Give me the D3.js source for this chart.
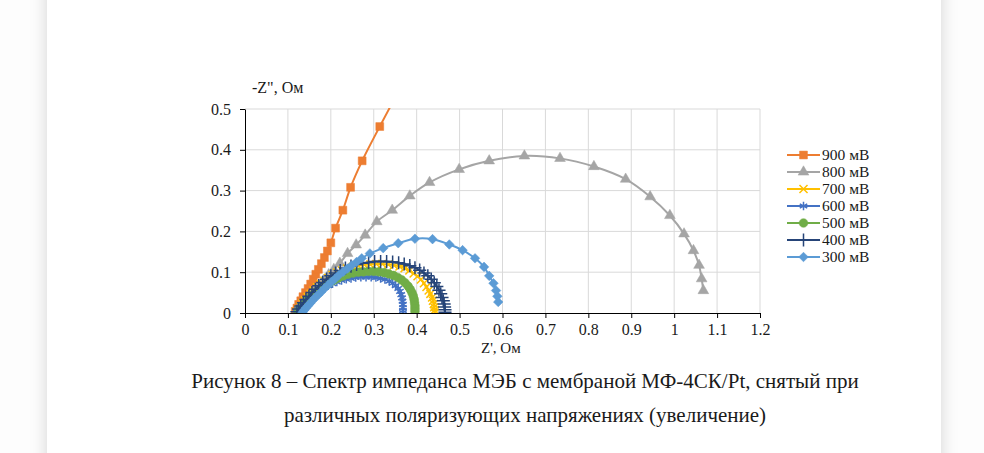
<!DOCTYPE html>
<html>
<head>
<meta charset="utf-8">
<script src="https://cdn.jsdelivr.net/npm/d3@7"></script>
<style>
  html, body { margin: 0; padding: 0; background: #fdfdfd; overflow: hidden; }
  .page { position: absolute; left: 47px; top: -20px; width: 894px; height: 500px;
          background: #fff; box-shadow: 0 0 16px rgba(0,0,0,0.17); }
  svg { position: absolute; left: 0; top: 0; }
  text { font-family: "Liberation Serif", "Times New Roman", serif; fill: #1a1a1a; }
  .grid line { stroke: #d9d9d9; stroke-width: 1; }
  .axis path, .axis line { stroke: #000; stroke-width: 1; }
  .axis text { font-size: 16px; }
</style>
</head>
<body>
<div class="page"></div>
<svg id="chart" width="984" height="453"></svg>
<script>
// series labels (legend order = draw order)
const seriesNames = ['900 мВ', '800 мВ', '700 мВ', '600 мВ', '500 мВ', '400 мВ', '300 мВ'];

// [Z', -Z''] in Ohm
const z900 = [[0.117,0.004],[0.121,0.012],[0.125,0.021],[0.130,0.030],[0.135,0.040],[0.141,0.050],[0.147,0.060],
  [0.153,0.071],[0.159,0.083],[0.165,0.095],[0.171,0.107],[0.178,0.121],[0.185,0.136],[0.192,0.152],[0.200,0.172],
  [0.211,0.208],[0.228,0.252],[0.246,0.308],[0.273,0.373],[0.314,0.457],[0.362,0.552]];

const z800 = [[0.122,0.004],[0.128,0.012],[0.135,0.021],[0.143,0.031],[0.152,0.042],[0.162,0.054],[0.172,0.067],
  [0.183,0.080],[0.195,0.094],[0.207,0.107],[0.221,0.122],[0.239,0.146],[0.259,0.167],[0.280,0.191],[0.307,0.224],
  [0.343,0.252],[0.384,0.287],[0.430,0.320],[0.499,0.352],[0.569,0.373],[0.651,0.385],[0.734,0.379],[0.813,0.359],
  [0.887,0.328],[0.944,0.285],[0.990,0.239],[1.023,0.194],[1.045,0.153],[1.058,0.117],[1.064,0.084],[1.068,0.055]];

const z700 = [[0.120,0.003],[0.124,0.009],[0.129,0.016],[0.134,0.023],[0.140,0.031],[0.146,0.039],[0.153,0.047],
  [0.160,0.055],[0.168,0.063],[0.176,0.071],[0.185,0.079],[0.194,0.086],[0.204,0.093],[0.215,0.099],[0.226,0.104],
  [0.238,0.109],[0.251,0.113],[0.264,0.116],[0.278,0.118],[0.292,0.119],[0.306,0.120],[0.320,0.120],[0.334,0.119],
  [0.347,0.117],[0.360,0.114],[0.372,0.110],[0.383,0.104],[0.393,0.097],[0.402,0.090],[0.410,0.082],[0.417,0.073],
  [0.423,0.064],[0.428,0.055],[0.432,0.047],[0.436,0.038],[0.438,0.030],[0.440,0.022],[0.441,0.014],[0.442,0.007],
  [0.442,0.001]];

const z600 = [[0.120,0.003],[0.124,0.009],[0.129,0.015],[0.134,0.021],[0.140,0.027],[0.146,0.033],[0.153,0.039],
  [0.160,0.045],[0.168,0.051],[0.176,0.057],[0.185,0.062],[0.194,0.067],[0.204,0.072],[0.214,0.076],[0.225,0.080],
  [0.236,0.083],[0.247,0.085],[0.258,0.087],[0.270,0.088],[0.282,0.088],[0.294,0.088],[0.305,0.087],[0.316,0.085],
  [0.326,0.082],[0.336,0.078],[0.344,0.073],[0.351,0.067],[0.357,0.060],[0.361,0.053],[0.364,0.045],[0.366,0.037],
  [0.367,0.029],[0.368,0.021],[0.368,0.013],[0.368,0.006],[0.368,0.001]];

const z500 = [[0.124,0.003],[0.128,0.009],[0.133,0.016],[0.138,0.022],[0.144,0.029],[0.150,0.036],[0.157,0.043],
  [0.164,0.050],[0.172,0.057],[0.180,0.063],[0.189,0.069],[0.198,0.075],[0.208,0.081],[0.218,0.086],[0.229,0.091],
  [0.240,0.095],[0.252,0.098],[0.264,0.100],[0.276,0.101],[0.288,0.102],[0.300,0.102],[0.312,0.101],[0.324,0.099],
  [0.335,0.096],[0.346,0.092],[0.356,0.087],[0.365,0.081],[0.373,0.074],[0.380,0.066],[0.385,0.058],[0.389,0.050],
  [0.392,0.042],[0.394,0.034],[0.395,0.026],[0.396,0.018],[0.396,0.011],[0.396,0.004]];

const z400 = [[0.121,0.003],[0.125,0.010],[0.130,0.017],[0.136,0.025],[0.142,0.033],[0.149,0.041],[0.156,0.050],
  [0.164,0.058],[0.172,0.067],[0.181,0.075],[0.190,0.083],[0.200,0.091],[0.211,0.098],[0.222,0.104],[0.234,0.110],
  [0.247,0.115],[0.260,0.119],[0.274,0.122],[0.288,0.124],[0.302,0.126],[0.316,0.126],[0.330,0.126],[0.344,0.125],
  [0.358,0.123],[0.371,0.120],[0.384,0.116],[0.396,0.111],[0.407,0.105],[0.417,0.098],[0.426,0.091],[0.434,0.083],
  [0.441,0.074],[0.447,0.065],[0.452,0.056],[0.456,0.047],[0.459,0.038],[0.462,0.030],[0.464,0.022],[0.465,0.015],
  [0.466,0.008],[0.466,0.002]];

const z300 = [[0.134,0.002],[0.138,0.007],[0.142,0.012],[0.147,0.018],[0.152,0.024],[0.158,0.031],[0.164,0.038],
  [0.171,0.045],[0.178,0.052],[0.185,0.060],[0.193,0.068],[0.201,0.076],[0.210,0.084],[0.219,0.093],[0.229,0.101],
  [0.239,0.109],[0.249,0.117],[0.260,0.125],[0.272,0.134],[0.291,0.146],[0.322,0.159],[0.357,0.171],[0.396,0.182],
  [0.437,0.181],[0.476,0.168],[0.507,0.154],[0.536,0.134],[0.557,0.113],[0.569,0.091],[0.579,0.073],[0.585,0.055],
  [0.588,0.041],[0.590,0.027]];

const seriesValues = [z900, z800, z700, z600, z500, z400, z300];

const xTicks = [0, 0.1, 0.2, 0.3, 0.4, 0.5, 0.6, 0.7, 0.8, 0.9, 1, 1.1, 1.2];
const xTickLabels = ['0', '0.1', '0.2', '0.3', '0.4', '0.5', '0.6', '0.7', '0.8', '0.9', '1', '1.1', '1.2'];
const yTicks = [0, 0.1, 0.2, 0.3, 0.4, 0.5];
const yTickLabels = ['0', '0.1', '0.2', '0.3', '0.4', '0.5'];

const captionLines = ['Рисунок 8 – Спектр импеданса МЭБ с мембраной МФ-4СК/Pt, снятый при',
  'различных поляризующих напряжениях (увеличение)'];

// look of each series
const colors = ['#ED7D31', '#A5A5A5', '#FFC000', '#4472C4', '#70AD47', '#264478', '#5B9BD5'];
const symbols = [
  {type: d3.symbolSquare, size: 62, fill: true},
  {type: d3.symbolTriangle, size: 50, fill: true},
  {type: d3.symbolTimes || d3.symbolCross, size: 44, fill: false},
  {type: d3.symbolAsterisk || d3.symbolStar, size: 52, fill: false},
  {type: d3.symbolCircle, size: 60, fill: true},
  {type: d3.symbolPlus || d3.symbolCross, size: 58, fill: false},
  {type: d3.symbolSquare, size: 46, fill: true, rotate: 45}
];

const svg = d3.select('#chart');

const plotL = 245, plotR = 760, plotT = 109, plotB = 313;

const x = d3.scaleLinear().domain([0, 1.2]).range([plotL, plotR]);
const y = d3.scaleLinear().domain([0, 0.5]).range([plotB, plotT]);

// grid
const grid = svg.append('g').attr('class', 'grid');
grid.selectAll('line.v').data(xTicks.slice(1)).enter().append('line')
  .attr('class', 'v')
  .attr('x1', d => x(d)).attr('x2', d => x(d))
  .attr('y1', plotT).attr('y2', plotB);
grid.selectAll('line.h').data(yTicks.slice(1)).enter().append('line')
  .attr('class', 'h')
  .attr('x1', plotL).attr('x2', plotR)
  .attr('y1', d => y(d)).attr('y2', d => y(d));

// axes
svg.append('g').attr('class', 'axis')
  .attr('transform', `translate(0, ${plotB})`)
  .call(d3.axisBottom(x).tickValues(xTicks).tickSize(5).tickSizeOuter(0)
    .tickFormat((d, i) => xTickLabels[i]))
  .selectAll('text').attr('dy', '0.85em');

svg.append('g').attr('class', 'axis')
  .attr('transform', `translate(${plotL}, 0)`)
  .call(d3.axisLeft(y).tickValues(yTicks).tickSize(5).tickSizeOuter(0)
    .tickFormat((d, i) => yTickLabels[i]))
  .selectAll('text').attr('x', -14);

// clip
svg.append('clipPath').attr('id', 'plotClip')
  .append('rect').attr('x', plotL).attr('y', plotT - 1)
  .attr('width', plotR - plotL).attr('height', plotB - plotT + 1);

const plot = svg.append('g').attr('clip-path', 'url(#plotClip)');

const line = d3.line()
  .x(d => x(d[0])).y(d => y(d[1]))
  .curve(d3.curveCatmullRom.alpha(0.5));

function drawMarker(sel, i) {
  const s = symbols[i];
  sel.attr('d', d3.symbol().type(s.type).size(s.size))
    .attr('fill', s.fill ? colors[i] : 'none')
    .attr('stroke', colors[i])
    .attr('stroke-width', s.fill ? 0.5 : 1.5);
}

seriesValues.forEach((vals, i) => {
  const g = plot.append('g');
  g.append('path').attr('d', line(vals))
    .attr('fill', 'none').attr('stroke', colors[i]).attr('stroke-width', 2);
  g.selectAll('path.m').data(vals).enter().append('path')
    .attr('class', 'm')
    .attr('transform', d => `translate(${x(d[0])}, ${y(d[1])})` + (symbols[i].rotate ? ` rotate(${symbols[i].rotate})` : ''))
    .call(drawMarker, i);
});

// axis titles
svg.append('text').attr('x', 252).attr('y', 93).attr('font-size', 16).text('-Z", Ом');
svg.append('text').attr('x', 481).attr('y', 353).attr('font-size', 15).text("Z', Ом");

// legend
const legend = svg.append('g').selectAll('g').data(seriesNames).enter().append('g')
  .attr('transform', (d, i) => `translate(787, ${155 + i * 17})`);
legend.append('line').attr('x1', 0).attr('x2', 33).attr('y1', 0).attr('y2', 0)
  .attr('stroke', (d, i) => colors[i]).attr('stroke-width', 2);
legend.append('path')
  .attr('transform', (d, i) => 'translate(16.5, 0)' + (symbols[i].rotate ? ` rotate(${symbols[i].rotate})` : ''))
  .each(function(d, i) { d3.select(this).call(drawMarker, i); });
legend.append('text').attr('x', 35).attr('y', 5).attr('font-size', 15.5).text(d => d);

// caption
svg.selectAll('text.cap').data(captionLines).enter().append('text')
  .attr('class', 'cap')
  .attr('x', 525).attr('y', (d, i) => 388 + i * 34)
  .attr('text-anchor', 'middle').attr('font-size', 21)
  .text(d => d);
</script>
</body>
</html>
